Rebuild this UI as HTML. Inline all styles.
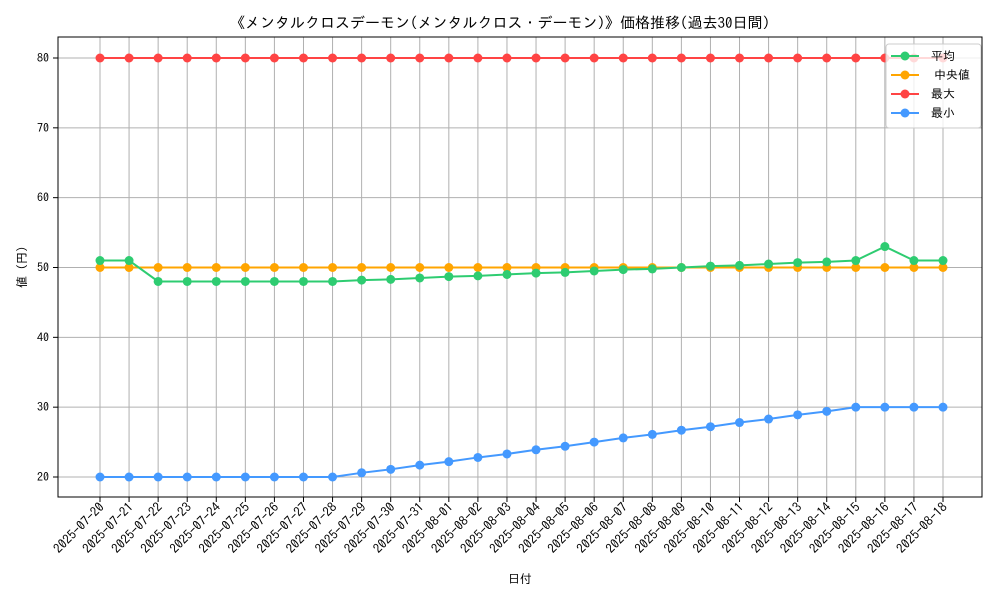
<!DOCTYPE html>
<html><head><meta charset="utf-8">
<style>
html,body{margin:0;padding:0;background:#fff;}
svg text{font-family:"IPAGothic","Noto Sans CJK JP",sans-serif;fill:#000;}
</style></head>
<body>
<svg id="chart" width="1000" height="600" xmlns="http://www.w3.org/2000/svg">
<text x="500" y="28" text-anchor="middle" font-size="15">《メンタルクロスデーモン(メンタルクロス・デーモン)》価格推移(過去30日間)</text>
<g id="grid"></g>
<g id="series"></g>
<rect x="58" y="37" width="924" height="460" fill="none" stroke="#000" stroke-width="1"/>
<g id="axes"></g>
<text x="520" y="583" text-anchor="middle" font-size="12">日付</text>
<text transform="translate(26,267) rotate(-90)" text-anchor="middle" font-size="12">値 (円)</text>
<g>
<rect x="886" y="44" width="95" height="84" rx="3" fill="#fff" fill-opacity="0.8" stroke="#ccc"/>
<g id="legend-items"></g>
</g>
</svg>
<script>
const dates=["2025-07-20","2025-07-21","2025-07-22","2025-07-23","2025-07-24","2025-07-25","2025-07-26","2025-07-27","2025-07-28","2025-07-29","2025-07-30","2025-07-31","2025-08-01","2025-08-02","2025-08-03","2025-08-04","2025-08-05","2025-08-06","2025-08-07","2025-08-08","2025-08-09","2025-08-10","2025-08-11","2025-08-12","2025-08-13","2025-08-14","2025-08-15","2025-08-16","2025-08-17","2025-08-18"];
const avgValues=[51,51,48,48,48,48,48,48,48,48.2,48.3,48.5,48.7,48.8,49.0,49.2,49.3,49.5,49.7,49.8,50.0,50.2,50.3,50.5,50.7,50.8,51.0,53,51,51];
const medianValues=[50,50,50,50,50,50,50,50,50,50,50,50,50,50,50,50,50,50,50,50,50,50,50,50,50,50,50,50,50,50];
const maxValues=[80,80,80,80,80,80,80,80,80,80,80,80,80,80,80,80,80,80,80,80,80,80,80,80,80,80,80,80,80,80];
const minValues=[20,20,20,20,20,20,20,20,20,20.6,21.1,21.7,22.2,22.8,23.3,23.9,24.4,25,25.6,26.1,26.7,27.2,27.8,28.3,28.9,29.4,30,30,30,30];
const yTicks=[20,30,40,50,60,70,80];
const seriesNames=["平均","中央値","最大","最小"];

const NS="http://www.w3.org/2000/svg";
const X0=100,X1=943,Y20=477,Y80=58;
function xPos(i){return X0+(X1-X0)*i/(dates.length-1);}
function yPos(v){return Y20+(v-20)*(Y80-Y20)/60;}
function mk(tag,attrs,parent){const e=document.createElementNS(NS,tag);for(const k in attrs)e.setAttribute(k,attrs[k]);parent.appendChild(e);return e;}

const grid=document.getElementById('grid'),axes=document.getElementById('axes');
dates.forEach((d,i)=>{
  const x=xPos(i);
  const gl=mk('line',{x1:x,x2:x,y1:37,y2:497,stroke:'#b0b0b0','stroke-width':1},grid);
  
  
  const tk=mk('line',{x1:x,x2:x,y1:497,y2:502,stroke:'#000'},axes);
  
  
  const t=mk('text',{transform:`translate(${x+5},508) rotate(-45)`,'text-anchor':'end','font-size':13},axes);
  
  
  t.textContent=d;
});
yTicks.forEach(v=>{
  const y=yPos(v);
  const gl=mk('line',{x1:58,x2:982,y1:y,y2:y,stroke:'#b0b0b0','stroke-width':1},grid);
  
  
  const tk=mk('line',{x1:53,x2:58,y1:y,y2:y,stroke:'#000'},axes);
  
  
  const t=mk('text',{x:49,y:y+4,'text-anchor':'end','font-size':12},axes);
  
  
  t.textContent=v;
});

const seriesData=[avgValues,medianValues,maxValues,minValues];
const colors=["#2ecc71","#ffa500","#ff4444","#4499ff"];
const keys=["avg","median","max","min"];
const sg=document.getElementById('series');
[2,3,1,0].forEach(s=>{
  const vals=seriesData[s];
  const g=mk('g',{},sg);
  
  
  const pts=vals.map((v,i)=>xPos(i)+','+yPos(v)).join(' ');
  const pl=mk('polyline',{points:pts,fill:'none',stroke:colors[s],'stroke-width':2},g);
  
  
  vals.forEach((v,i)=>{
    const c=mk('circle',{cx:xPos(i),cy:yPos(v),r:4.5,fill:colors[s]},g);
    
    
  });
});

const lg=document.getElementById('legend-items');
seriesNames.forEach((n,i)=>{
  const y=56+i*19;
  const g=mk('g',{},lg);
  
  
  mk('line',{x1:891,x2:919,y1:y,y2:y,stroke:colors[i],'stroke-width':2},g);
  mk('circle',{cx:905,cy:y,r:4.5,fill:colors[i]},g);
  const t=mk('text',{x:i===1?934:931,y:y+4,'font-size':12},g);
  t.textContent=n;
});
</script>
</body></html>
